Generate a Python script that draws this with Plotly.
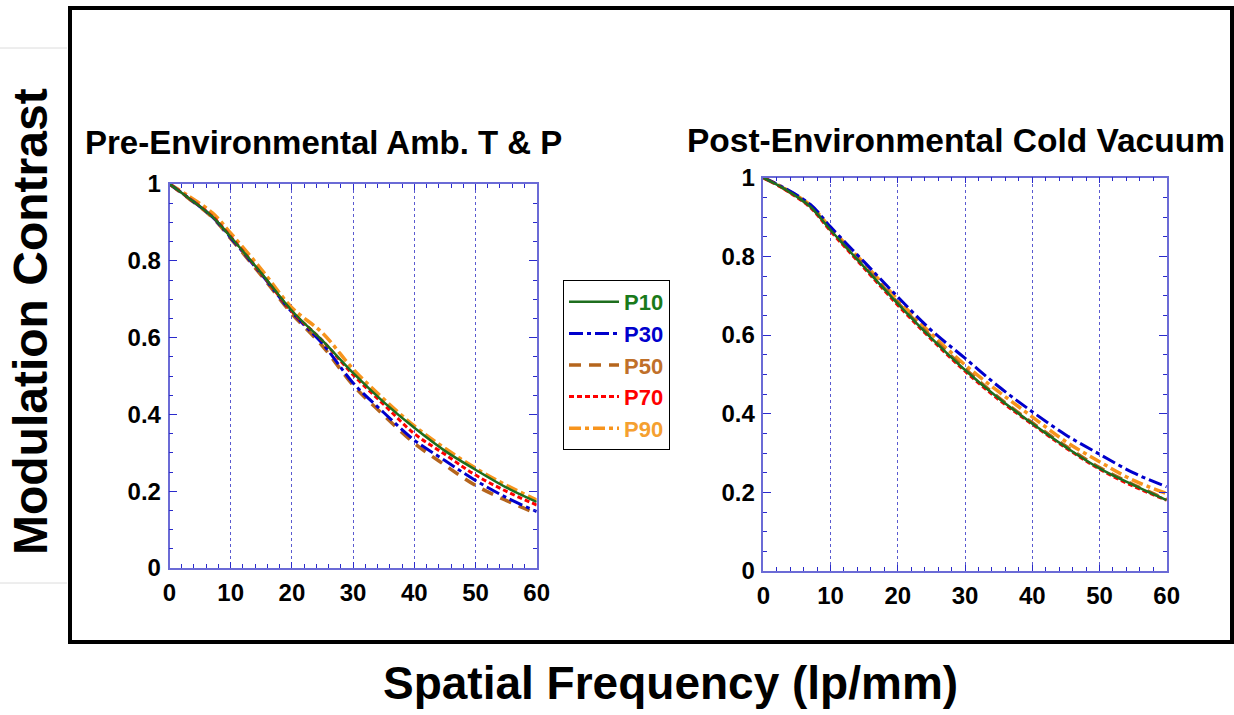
import plotly.graph_objects as go

W, H = 1234, 715

# ---------------- data ----------------
freq = [0, 3, 7, 10, 15, 20, 25, 30, 35, 40, 45, 50, 55, 60]

series_names = ["P10", "P30", "P50", "P70", "P90"]

pre_P10 = [1.000, 0.965, 0.915, 0.862, 0.768, 0.670, 0.592, 0.508, 0.432, 0.365, 0.305, 0.256, 0.210, 0.172]
pre_P30 = [1.000, 0.965, 0.914, 0.860, 0.765, 0.666, 0.584, 0.482, 0.405, 0.333, 0.280, 0.228, 0.184, 0.147]
pre_P50 = [1.000, 0.964, 0.913, 0.858, 0.762, 0.662, 0.578, 0.476, 0.398, 0.325, 0.268, 0.215, 0.176, 0.142]
pre_P70 = [1.000, 0.965, 0.916, 0.863, 0.767, 0.668, 0.592, 0.503, 0.426, 0.350, 0.296, 0.242, 0.200, 0.164]
pre_P90 = [1.000, 0.970, 0.925, 0.872, 0.778, 0.678, 0.612, 0.518, 0.440, 0.370, 0.312, 0.260, 0.216, 0.177]

post_P10 = [1.000, 0.973, 0.926, 0.867, 0.773, 0.680, 0.592, 0.511, 0.439, 0.375, 0.315, 0.261, 0.219, 0.180]
post_P30 = [1.000, 0.975, 0.932, 0.875, 0.786, 0.697, 0.612, 0.541, 0.469, 0.405, 0.346, 0.297, 0.250, 0.214]
post_P50 = [1.000, 0.973, 0.927, 0.868, 0.775, 0.682, 0.595, 0.514, 0.441, 0.377, 0.317, 0.263, 0.220, 0.182]
post_P70 = [1.000, 0.972, 0.924, 0.864, 0.770, 0.676, 0.589, 0.508, 0.436, 0.373, 0.313, 0.259, 0.216, 0.180]
post_P90 = [1.000, 0.974, 0.930, 0.872, 0.782, 0.690, 0.603, 0.524, 0.456, 0.392, 0.329, 0.278, 0.231, 0.197]

x_ticks = [0, 10, 20, 30, 40, 50, 60]
y_ticks = [0, 0.2, 0.4, 0.6, 0.8, 1]

title_left = "Pre-Environmental Amb. T & P"
title_right = "Post-Environmental Cold Vacuum"
x_label = "Spatial Frequency (lp/mm)"
y_label = "Modulation Contrast"

# ---------------- styles ----------------
line_colors = {"P10": "#1e6e1e", "P30": "#0000cc", "P50": "#b5651d", "P70": "#ff0000", "P90": "#f7941d"}
text_colors = {"P10": "#1a7a1a", "P30": "#0000cc", "P50": "#c0702a", "P70": "#ff0000", "P90": "#f5a030"}
dashes = {"P10": "solid", "P30": "14px,4px,4px,4px", "P50": "12px,8px", "P70": "5px,3px", "P90": "12px,4px,4px,4px"}
widths = {"P10": 2.5, "P30": 3, "P50": 3.5, "P70": 3, "P90": 3.5}
draw_order = ["P90", "P50", "P30", "P70", "P10"]

pre = {"P10": pre_P10, "P30": pre_P30, "P50": pre_P50, "P70": pre_P70, "P90": pre_P90}
post = {"P10": post_P10, "P30": post_P30, "P50": post_P50, "P70": post_P70, "P90": post_P90}

FONT = "Liberation Sans, Arial, sans-serif"

fig = go.Figure()

for name in draw_order:
    fig.add_trace(go.Scatter(
        x=freq, y=pre[name], mode="lines", xaxis="x", yaxis="y",
        name=f"<span style='color:{text_colors[name]}'><b>{name}</b></span>",
        legendrank=series_names.index(name),
        line=dict(color=line_colors[name], dash=dashes[name], width=widths[name], shape="spline"),
        showlegend=True,
    ))
for name in draw_order:
    fig.add_trace(go.Scatter(
        x=freq, y=post[name], mode="lines", xaxis="x2", yaxis="y2",
        name=name, showlegend=False,
        line=dict(color=line_colors[name], dash=dashes[name], width=widths[name], shape="spline"),
    ))

def px_x(p):
    return p / W

def px_y(p):
    return 1 - p / H

axis_line = "#6b6bd6"
tick_col = "#2a2acc"
grid_col = "#5a5ad0"
tickfont = dict(family=FONT, size=24, color="black", weight="bold")

xcommon = dict(range=[0, 60], tickvals=x_ticks, ticks="inside", ticklen=6, tickwidth=1.2,
               tickcolor=tick_col, showline=True, linecolor=axis_line, linewidth=1.5,
               mirror="ticks", showgrid=True, gridcolor=grid_col, griddash="dot", gridwidth=1,
               zeroline=False, tickfont=tickfont, ticklabelstandoff=2, automargin=False,
               minor=dict(dtick=2, ticks="inside", ticklen=4, tickcolor=tick_col, showgrid=False))
ycommon = dict(range=[0, 1], tickvals=y_ticks, ticks="inside", ticklen=8, tickwidth=1.2,
               tickcolor=tick_col, showline=True, linecolor=axis_line, linewidth=1.5,
               mirror="ticks", showgrid=False, zeroline=False, tickfont=tickfont, ticklabelstandoff=2,
               automargin=False,
               minor=dict(dtick=0.05, ticks="inside", ticklen=4, tickcolor=tick_col, showgrid=False))

fig.update_layout(
    width=W, height=H,
    margin=dict(l=0, r=0, t=0, b=0, pad=0, autoexpand=False),
    paper_bgcolor="white", plot_bgcolor="white",
    font=dict(family=FONT, color="black"),
    xaxis=dict(domain=[px_x(169.5), px_x(536.7)], anchor="y", **xcommon),
    yaxis=dict(domain=[px_y(568), px_y(184)], anchor="x", **ycommon),
    xaxis2=dict(domain=[px_x(763.3), px_x(1166.7)], anchor="y2", **xcommon),
    yaxis2=dict(domain=[px_y(571), px_y(177.7)], anchor="x2", **ycommon),
    legend=dict(x=px_x(563), y=px_y(280), xanchor="left", yanchor="top",
                bordercolor="black", borderwidth=1, bgcolor="white",
                font=dict(family=FONT, size=22), itemwidth=50,
                traceorder="normal"),
    showlegend=True,
)

annotations = [
    dict(text=f"<b>{title_left}</b>", x=px_x(324), y=px_y(142), xref="paper", yref="paper",
         showarrow=False, font=dict(family=FONT, size=33, color="black"), xanchor="center", yanchor="middle"),
    dict(text=f"<b>{title_right}</b>", x=px_x(955.5), y=px_y(140), xref="paper", yref="paper",
         showarrow=False, font=dict(family=FONT, size=33.5, color="black"), xanchor="center", yanchor="middle"),
    dict(text=f"<b>{x_label}</b>", x=px_x(670), y=px_y(683), xref="paper", yref="paper",
         showarrow=False, font=dict(family=FONT, size=46, color="black"), xanchor="center", yanchor="middle"),
    dict(text=f"<b>{y_label}</b>", x=px_x(30), y=px_y(322), xref="paper", yref="paper", textangle=-90,
         showarrow=False, font=dict(family=FONT, size=48, color="black"), xanchor="center", yanchor="middle"),
]
fig.update_layout(annotations=annotations)

shapes = [
    dict(type="rect", xref="paper", yref="paper", x0=px_x(70), x1=px_x(1232), y0=px_y(8), y1=px_y(642),
         line=dict(color="black", width=4), fillcolor="rgba(0,0,0,0)", layer="below"),
    dict(type="line", xref="paper", yref="paper", x0=0, x1=px_x(67), y0=px_y(48), y1=px_y(48),
         line=dict(color="#dcdcdc", width=1)),
    dict(type="line", xref="paper", yref="paper", x0=0, x1=px_x(67), y0=px_y(583), y1=px_y(583),
         line=dict(color="#dcdcdc", width=1)),
]
fig.update_layout(shapes=shapes)

fig.write_html(
    "out.html",
    config={"displayModeBar": False},
    post_script="document.body.style.margin='0px';document.body.style.padding='0px';"
                "document.documentElement.style.overflow='hidden';",
)
